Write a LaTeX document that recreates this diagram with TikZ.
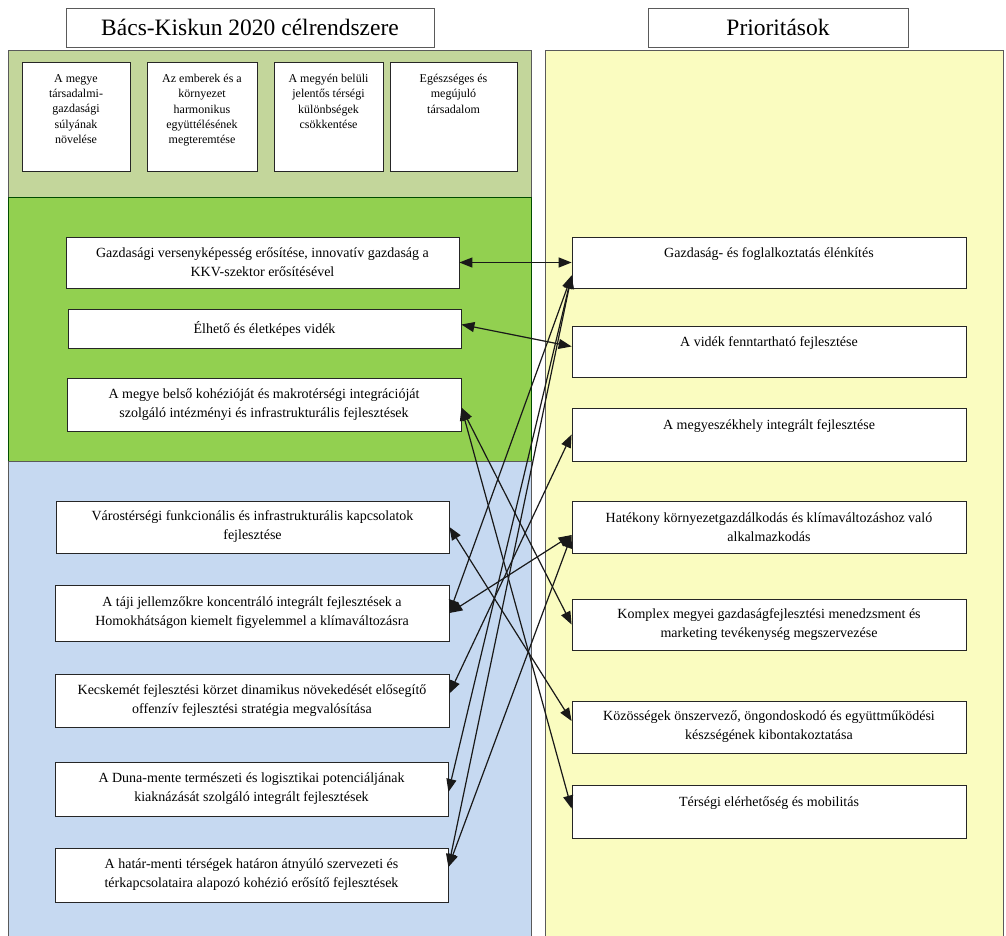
\documentclass[tikz,border=0pt]{standalone}
\usepackage{fontspec}
\setmainfont{Liberation Serif}
\usetikzlibrary{arrows.meta}
\definecolor{topgreen}{RGB}{195,214,155}
\definecolor{midgreen}{RGB}{146,208,80}
\definecolor{lblue}{RGB}{198,217,241}
\definecolor{lyellow}{RGB}{250,252,192}
\definecolor{edgegray}{RGB}{90,90,90}
\begin{document}
\begin{tikzpicture}[x=1pt,y=-1pt,
  panel/.style={line width=0.8pt},
  titlebox/.style={draw=edgegray, line width=0.9pt, fill=white, inner sep=0pt,
    font=\fontsize{23.5}{27}\selectfont},
  smallbox/.style={draw=black!85, line width=0.8pt, fill=white, inner sep=0pt,
    align=center, minimum width=#1, minimum height=109pt,
    font=\fontsize{12}{15.2}\selectfont},
  bigbox/.style 2 args={draw=black!85, line width=0.8pt, fill=white, inner sep=0pt,
    align=center, minimum width=#1, minimum height=#2,
    font=\fontsize{14}{19}\selectfont},
  link/.style={{Triangle[length=13pt,width=10pt]}-{Triangle[length=13pt,width=10pt]},
    line width=1.2pt, draw=black!90}
]
\useasboundingbox (0,0) rectangle (1006,935);
\fill[white] (0,0) rectangle (1006,935);
% panels
\filldraw[panel, fill=topgreen, draw=edgegray] (8,50) rectangle (531,197);
\filldraw[panel, fill=midgreen, draw=black!50!green!60!black] (8,197) rectangle (531,461);
\filldraw[panel, fill=lblue, draw=edgegray] (8,461) rectangle (531,940);
\filldraw[panel, fill=lyellow, draw=edgegray] (545,50) rectangle (1003,940);
% titles
\node[titlebox, minimum width=368pt, minimum height=39pt] (titleL) at (250,27.5) {Bács-Kiskun 2020 célrendszere};
\node[titlebox, minimum width=260pt, minimum height=39pt] (titleR) at (778,27.5) {Prioritások};
% top goals
\node[smallbox=108pt] (T1) at (76,116.5) {A megye\\társadalmi-\\gazdasági\\súlyának\\növelése\\~};
\node[smallbox=110pt] (T2) at (202,116.5) {Az emberek és a\\környezet\\harmonikus\\együttélésének\\megteremtése\\~};
\node[smallbox=109pt] (T3) at (328.5,116.5) {A megyén belüli\\jelentős térségi\\különbségek\\csökkentése\\~\\~};
\node[smallbox=127pt] (T4) at (453.5,116.5) {Egészséges és\\megújuló\\társadalom\\~\\~\\~};
% green goals
\node[bigbox={393pt}{51pt}] (G1) at (262.5,262.5) {Gazdasági versenyképesség erősítése, innovatív gazdaság a\\KKV-szektor erősítésével};
\node[bigbox={393pt}{39pt}] (G2) at (264.5,328.5) {Élhető és életképes vidék};
\node[bigbox={394pt}{53pt}] (G3) at (264,404.5) {A megye belső kohézióját és makrotérségi integrációját\\szolgáló intézményi és infrastrukturális fejlesztések};
% blue goals
\node[bigbox={393pt}{52pt}] (B1) at (252.5,527) {Várostérségi funkcionális és infrastrukturális kapcsolatok\\fejlesztése};
\node[bigbox={394pt}{56pt}] (B2) at (252,613) {A táji jellemzőkre koncentráló integrált fejlesztések a\\Homokhátságon kiemelt figyelemmel a klímaváltozásra};
\node[bigbox={394pt}{53pt}] (B3) at (252,700.5) {Kecskemét fejlesztési körzet dinamikus növekedését elősegítő\\offenzív fejlesztési stratégia megvalósítása};
\node[bigbox={393pt}{54pt}] (B4) at (251.5,789) {A Duna-mente természeti és logisztikai potenciáljának\\kiaknázását szolgáló integrált fejlesztések};
\node[bigbox={393pt}{54pt}] (B5) at (251.5,875) {A határ-menti térségek határon átnyúló szervezeti és\\térkapcsolataira alapozó kohézió erősítő fejlesztések};
% priorities
\node[bigbox={394pt}{51pt}] (R1) at (769,262.5) {Gazdaság- és foglalkoztatás élénkítés\\~};
\node[bigbox={394pt}{51pt}] (R2) at (769,351.5) {A vidék fenntartható fejlesztése\\~};
\node[bigbox={394pt}{53pt}] (R3) at (769,434.5) {A megyeszékhely integrált fejlesztése\\~};
\node[bigbox={394pt}{52pt}] (R4) at (769,527) {Hatékony környezetgazdálkodás és klímaváltozáshoz való\\alkalmazkodás};
\node[bigbox={394pt}{51pt}] (R5) at (769,624.5) {Komplex megyei gazdaságfejlesztési menedzsment és\\marketing tevékenység megszervezése};
\node[bigbox={394pt}{52pt}] (R6) at (769,727) {Közösségek önszervező, öngondoskodó és együttműködési\\készségének kibontakoztatása};
\node[bigbox={394pt}{53pt}] (R7) at (769,811.5) {Térségi elérhetőség és mobilitás\\~};
% connectors
\draw[link] (G1.east) -- (R1.west);
\draw[link] ([yshift=4pt]G2.east) -- ([yshift=5pt]R2.west);
\draw[link] ([yshift=-3pt]G3.east) -- (R5.west);
\draw[link] ([yshift=-3pt]G3.east) -- ([yshift=3pt]R7.west);
\draw[link] (B1.east) -- ([yshift=6pt]R6.west);
\draw[link] (B2.east) -- ([yshift=-8pt]R4.west);
\draw[link] (B2.east) -- ([yshift=-13pt]R1.west);
\draw[link] ([yshift=7pt]B3.east) -- (R3.west);
\draw[link] ([yshift=-3pt]B4.east) -- ([yshift=-13pt]R1.west);
\draw[link] ([yshift=8pt]B5.east) -- ([yshift=-13pt]R1.west);
\draw[link] ([yshift=8pt]B5.east) -- ([yshift=-8pt]R4.west);
\end{tikzpicture}
\end{document}
